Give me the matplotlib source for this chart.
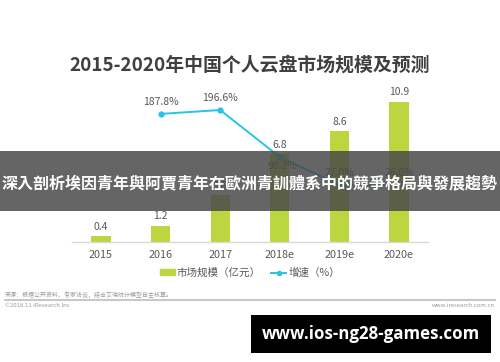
import matplotlib.pyplot as plt
from matplotlib.patches import Rectangle
from matplotlib.lines import Line2D

# =========================
# DATA
# =========================
years = ["2015", "2016", "2017", "2018e", "2019e", "2020e"]
market_size = [0.4, 1.2, 3.6, 6.8, 8.6, 10.9]          # 亿元
growth_years = [1, 2, 3, 4, 5]                          # index into years
growth_rate = [187.8, 196.6, 90.2, 27.0, 26.0]          # %

title = "2015-2020年中国个人云盘市场规模及预测"
legend_labels = ["市场规模（亿元）", "增速（%）"]
source_text = "来源：根据公开资料、专家访谈，结合艾瑞统计模型自主核算。"
copyright_text = "©2018.11 iResearch Inc"
site_text = "www.iresearch.com.cn"
banner_text = "深入剖析埃因青年與阿賈青年在歐洲青訓體系中的競爭格局與發展趨勢"
watermark_text = "www.ios-ng28-games.com"

bar_color = "#BCD640"
line_color = "#29C3E6"
text_gray = "#595959"

plt.rcParams['font.family'] = ['Noto Sans CJK SC', 'DejaVu Sans']

W, H = 500, 362
fig = plt.figure(figsize=(W / 100, H / 100), dpi=100)
fig.patch.set_facecolor("white")

# axes in pixel terms: x 72..428, y 90..241.5 (from top)
ax = fig.add_axes([72 / W, 1 - 241.5 / H, 356 / W, 151.5 / H])
x = list(range(len(years)))
ax.bar(x, market_size, width=0.32, color=bar_color, zorder=2)
ax.set_xlim(-0.4866, 5.4866)
ax.set_ylim(0, 151.5 / 12.8)

for xi, v in zip(x, market_size):
    ax.annotate(f"{v}", (xi, v), xytext=(0, 3.5), textcoords="offset points",
                ha="center", va="bottom", fontsize=7.5, color=text_gray)

ax.set_xticks(x)
ax.set_xticklabels(years, fontsize=7.8, color=text_gray)
ax.tick_params(axis="x", length=0, pad=6)
ax.set_yticks([])
for s in ["top", "left", "right"]:
    ax.spines[s].set_visible(False)
ax.spines["bottom"].set_color("#D9D9D9")
ax.spines["bottom"].set_linewidth(1)
ax.patch.set_alpha(0)

ax2 = ax.twinx()
ax2.plot(growth_years, growth_rate, color=line_color, lw=1.4,
         marker="o", markersize=3.5, zorder=3)
ax2.set_ylim(-100.9, 241.9)
ax2.set_yticks([])
for s in ["top", "left", "right", "bottom"]:
    ax2.spines[s].set_visible(False)
for xi, v in zip(growth_years, growth_rate):
    if v < 100 and v > 50:
        # this label sits just under its point, as in the source chart
        ax2.annotate(f"{v:.1f}%", (xi, v), xytext=(2, -2.5), textcoords="offset points",
                     ha="center", va="top", fontsize=7.5, color=text_gray)
    else:
        ax2.annotate(f"{v:.1f}%", (xi, v), xytext=(0, 5), textcoords="offset points",
                     ha="center", va="bottom", fontsize=7.5, color=text_gray)

# title
fig.text(0.5, 1 - 65 / H, title, ha="center", va="center", fontsize=13.6,
         fontweight="bold", color="#404040")

# legend
handles = [Rectangle((0, 0), 1, 1, color=bar_color),
           Line2D([0], [0], color=line_color, lw=1.4, marker="o", markersize=3)]
fig.legend(handles, legend_labels, loc="center", bbox_to_anchor=(0.5, 1 - 273 / H),
           ncol=2, frameon=False, fontsize=7.6, labelcolor=text_gray,
           handlelength=1.4, handleheight=0.5, handletextpad=0.2, columnspacing=1.0)

# footer
fig.text(5 / W, 1 - 295 / H, source_text, fontsize=4.3, color="#9A9A9A", va="center")
fig.add_artist(Line2D([5 / W, 495 / W], [1 - 299.5 / H] * 2, color="#C8C8C8", lw=1.5))
fig.text(5 / W, 1 - 305.5 / H, copyright_text, fontsize=4.3, color="#9A9A9A", va="center")
fig.text(495 / W, 1 - 305.5 / H, site_text, fontsize=4.3, color="#9A9A9A",
         va="center", ha="right")

# overlay banner
fig.add_artist(Rectangle((0, 1 - 210.7 / H), 1, 60 / H, transform=fig.transFigure,
                         facecolor="#4a4a4a", alpha=0.85, zorder=10))
fig.text(0.5, 1 - 183 / H, banner_text, ha="center", va="center", fontsize=11.5,
         fontweight="bold", color="white", zorder=11,
         family=['Noto Sans CJK TC', 'DejaVu Sans'])

# watermark box
fig.add_artist(Rectangle((251 / W, 1 - 352.7 / H), 240 / W, 37.7 / H,
                         transform=fig.transFigure, facecolor="black", zorder=10))
fig.text(371 / W, 1 - 334 / H, watermark_text, ha="center", va="center",
         fontsize=12.2, fontweight="bold", color="white", zorder=11,
         family=['Open Sans', 'DejaVu Sans'])

fig.savefig("out.png", dpi=100)
